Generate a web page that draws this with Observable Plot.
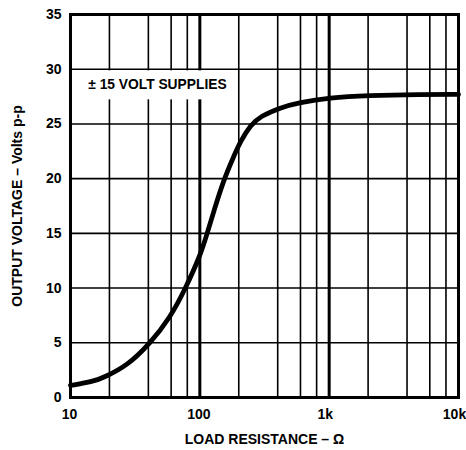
<!DOCTYPE html>
<html>
<head>
<meta charset="utf-8">
<script src="https://cdn.jsdelivr.net/npm/d3@7"></script>
<script src="https://cdn.jsdelivr.net/npm/@observablehq/plot@0.6"></script>
<style>
  html, body { margin: 0; padding: 0; background: #fff; }
  #chart { width: 466px; height: 450px; }
</style>
</head>
<body>
<div id="chart"></div>
<script>
// Curve data: load resistance (ohms) vs output voltage (V p-p)
const resistance = [10, 15, 18.6, 27.4, 41, 59, 77, 101, 114, 128, 153, 183, 206, 247, 294, 421, 582, 1000, 2000, 5000, 10000];
const voltage    = [1.1, 1.45, 1.9, 2.9, 4.9, 7.3, 9.9, 13.0, 15.0, 17.0, 19.9, 22.05, 23.4, 24.9, 25.7, 26.5, 26.95, 27.4, 27.6, 27.7, 27.7];

// Axis ticks
const xTicksLow = [10, 100];
const xTicksHigh = [1000, 10000];
const xTickLabels = {10: "10", 100: "100", 1000: "1k", 10000: "10k"};
const yTicks = [0, 5, 10, 15, 20, 25, 30, 35];

// Grid
const minorX = [20, 40, 60, 80, 200, 400, 600, 800, 2000, 4000, 6000, 8000];
const majorX = [100, 1000];
const gridY = [5, 10, 15, 20, 25, 30];

// Annotation
const noteText = ["\u00b1 15 VOLT SUPPLIES"];
const noteBox = [{x1: 10, x2: 190, y1: 27.2, y2: 29.85}];
const notePos = [{x: 47, y: 28.6}];

const data = resistance.map((r, i) => ({r, v: voltage[i]}));

const font = "'Liberation Sans', Arial, Helvetica, sans-serif";

const chart = Plot.plot({
  width: 466,
  height: 450,
  marginLeft: 70,
  marginRight: 8,
  marginTop: 14,
  marginBottom: 53,
  style: {fontFamily: font, fontSize: "14px", fontWeight: "bold", color: "#000", background: "#fff", overflow: "visible"},
  x: {type: "log", domain: [10, 10000]},
  y: {domain: [0, 35]},
  marks: [
    Plot.ruleX(minorX, {stroke: "#000", strokeWidth: 1.6}),
    Plot.ruleX(majorX, {stroke: "#000", strokeWidth: 3}),
    Plot.ruleY(gridY, {stroke: "#000", strokeWidth: 1.6}),
    Plot.rect(noteBox, {x1: "x1", x2: "x2", y1: "y1", y2: "y2", fill: "#fff"}),
    Plot.text(notePos, {x: "x", y: "y", text: () => noteText[0], fontSize: 13.8, fontWeight: "bold", fill: "#000"}),
    Plot.line(data, {x: "r", y: "v", curve: "basis", stroke: "#000", strokeWidth: 4.8, strokeLinecap: "round"}),
    Plot.frame({stroke: "#000", strokeWidth: 3}),
    Plot.axisX({ticks: xTicksLow, tickFormat: (d) => xTickLabels[d], tickSize: 0, tickPadding: 12, dx: -1,
      label: "LOAD RESISTANCE \u2013 \u03a9", labelAnchor: "center", labelArrow: "none", labelOffset: 46, fontSize: 14}),
    Plot.axisX({ticks: xTicksHigh, tickFormat: (d) => xTickLabels[d], tickSize: 0, tickPadding: 12, dx: -4,
      label: null, fontSize: 14}),
    Plot.axisY({ticks: yTicks, tickSize: 0, tickPadding: 9,
      label: "OUTPUT VOLTAGE \u2013 Volts p-p", labelAnchor: "center", labelArrow: "none", labelOffset: 58, fontSize: 14})
  ]
});
document.getElementById("chart").appendChild(chart);
</script>
</body>
</html>
